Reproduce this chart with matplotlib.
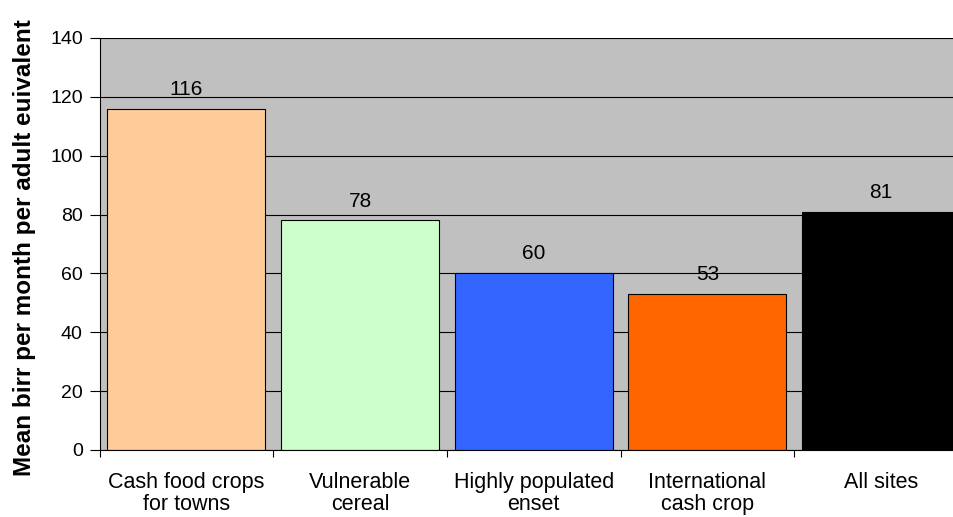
import matplotlib.pyplot as plt

plt.rcParams["font.family"] = ["Liberation Sans", "DejaVu Sans"]

# mean income by site type
categories = ["Cash food crops\nfor towns", "Vulnerable\ncereal", "Highly populated\nenset",
              "International\ncash crop", "All sites"]
values = [116, 78, 60, 53, 81]
colors = ["#FFCC99", "#CCFFCC", "#3366FF", "#FF6600", "#000000"]

fig = plt.figure(figsize=(9.54, 5.17), dpi=100)
ax = fig.add_axes([0.1043, 0.1296, 0.8957, 0.7969])
ax.set_facecolor("#C0C0C0")

x = range(len(categories))
ax.set_axisbelow(True)
ax.yaxis.grid(True, color="black", lw=0.8)
bars = ax.bar(x, values, width=0.91, color=colors, edgecolor="black", lw=0.8)

for b, v in zip(bars, values):
    ax.annotate(f"{v}", (b.get_x() + b.get_width() / 2, v), xytext=(0, 14),
                textcoords="offset points", ha="center", va="center", fontsize=15)

ax.set_ylim(0, 140)
ax.set_yticks(range(0, 141, 20))
# category separators as major ticks, names on minor ticks
ax.set_xticks([i - 0.5 for i in range(6)], minor=False)
ax.set_xticklabels([])
ax.set_xticks(list(x), minor=True)
ax.set_xticklabels(categories, minor=True, fontsize=15.5, linespacing=1.05)
# last bar runs off the right edge
ax.set_xlim(-0.5, 4.42)
ax.tick_params(axis="x", which="minor", length=0, pad=16)
ax.tick_params(axis="x", which="major", length=5, direction="out", width=0.8)
ax.tick_params(axis="y", length=7, width=0.8, labelsize=14, pad=5)

for s in ["top", "right"]:
    ax.spines[s].set_visible(False)
ax.spines["left"].set_linewidth(0.8)
ax.spines["bottom"].set_linewidth(0.8)

ax.set_ylabel("Mean birr per month per adult euivalent", fontsize=17.5,
              fontweight="bold", va="center")
ax.yaxis.set_label_coords(-0.088, 0.49)

fig.savefig("out.png", dpi=100)
